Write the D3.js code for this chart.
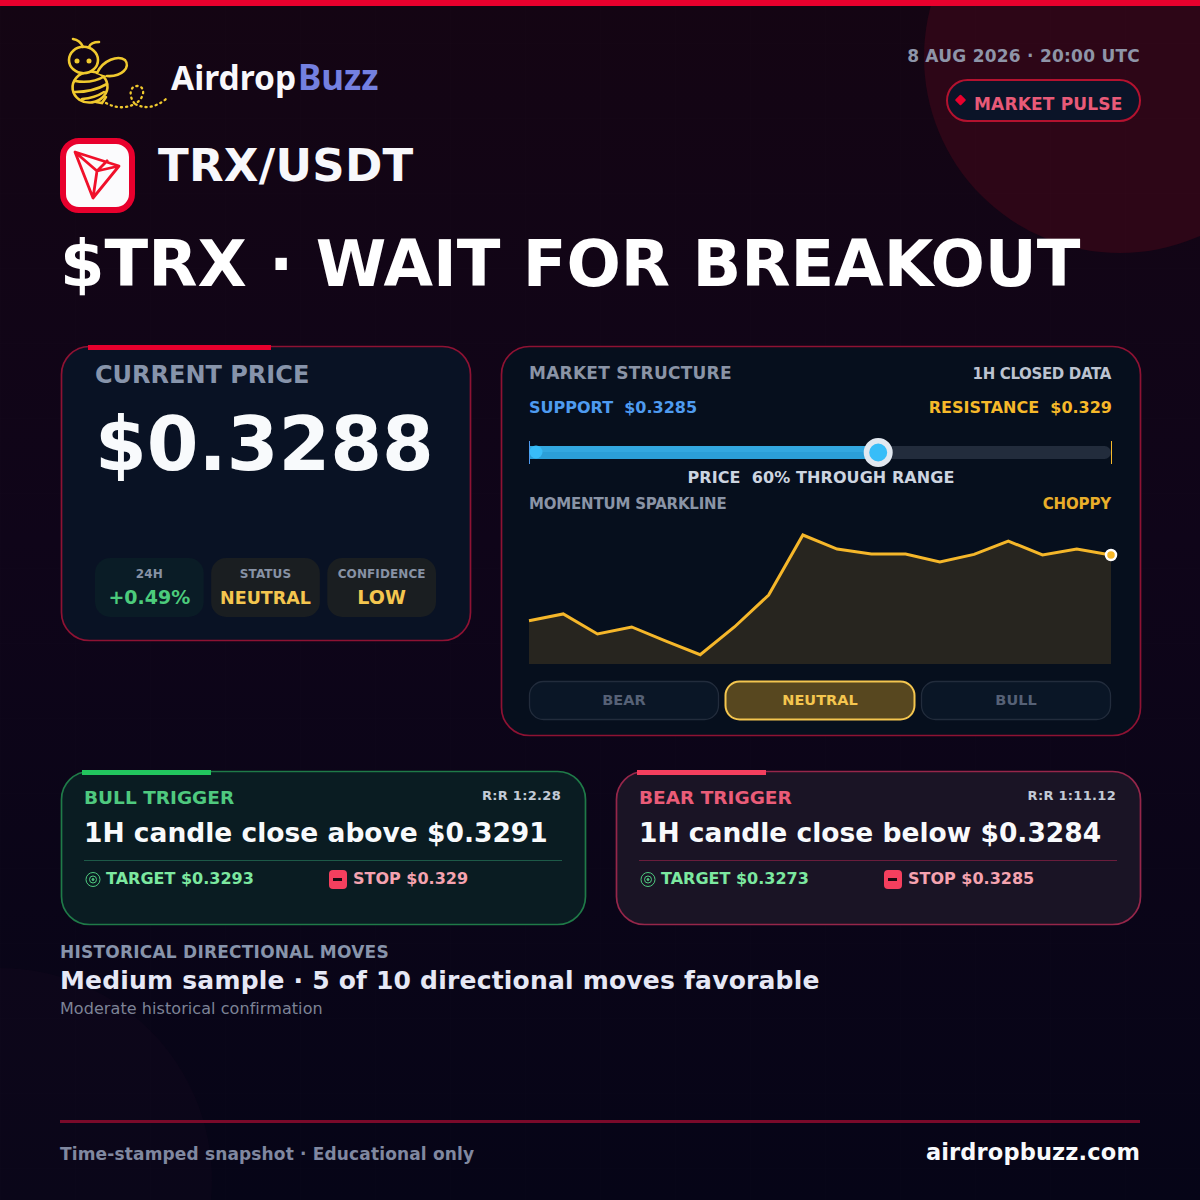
<!DOCTYPE html>
<html><head><meta charset="utf-8">
<script src="https://d3js.org/d3.v7.min.js"></script>
<style>html,body{margin:0;padding:0;background:#080515}svg{display:block}text{font-family:"DejaVu Sans",sans-serif}</style>
</head><body><div id="c"></div>
<script>
// ---- data ----
const momentum = [33.6,38.8,23.3,28.7,17.8,7.2,28.7,53.5,100,89.1,85.3,85.3,79.1,85,95.3,84.5,89.1,84.5];
const supportPrice = 0.3285, resistancePrice = 0.329, currentPrice = 0.3288;
const stats = [["24H","+0.49%","#4ccb7c"],["STATUS","NEUTRAL","#f4c64f"],["CONFIDENCE","LOW","#f4c64f"]];
const biasLabels = ["BEAR","NEUTRAL","BULL"];
const activeBias = "NEUTRAL";
const triggers = [
 {name:"BULL TRIGGER",rr:"R:R 1:2.28",text:"1H candle close above $0.3291",target:"TARGET $0.3293",stop:"STOP $0.329"},
 {name:"BEAR TRIGGER",rr:"R:R 1:11.12",text:"1H candle close below $0.3284",target:"TARGET $0.3273",stop:"STOP $0.3285"}
];

const W=1200,H=1200;
const svg=d3.select("#c").append("svg").attr("width",W).attr("height",H);
const defs=svg.append("defs");
const bg=defs.append("linearGradient").attr("id","bg").attr("x1",0).attr("y1",0).attr("x2",0).attr("y2",1);
bg.append("stop").attr("offset","0").attr("stop-color","#140513");
bg.append("stop").attr("offset","0.45").attr("stop-color","#0f0519");
bg.append("stop").attr("offset","1").attr("stop-color","#060517");
svg.append("rect").attr("width",W).attr("height",H).attr("fill","url(#bg)");
svg.append("circle").attr("cx",1120).attr("cy",57).attr("r",196).attr("fill","#2d0617");
svg.append("circle").attr("cx",0).attr("cy",1180).attr("r",212).attr("fill","#ff60a0").attr("fill-opacity",0.02);
const gridX=d3.range(0,W,75), gridY=d3.range(43,H,75);
svg.selectAll(".gx").data(gridX).join("line").attr("x1",d=>d+.5).attr("x2",d=>d+.5).attr("y1",0).attr("y2",H).attr("stroke","#fff").attr("stroke-opacity",.008);
svg.selectAll(".gy").data(gridY).join("line").attr("y1",d=>d+.5).attr("y2",d=>d+.5).attr("x1",0).attr("x2",W).attr("stroke","#fff").attr("stroke-opacity",.008);
svg.append("rect").attr("width",W).attr("height",6).attr("fill","#e8002d");

function T(x,y,s,size,fill,o={}){
  const t=svg.append("text").attr("x",x).attr("y",y).text(s).attr("font-size",size).attr("fill",fill)
   .attr("font-weight",o.w||"bold").attr("text-anchor",o.a||"start");
  if(o.ls)t.attr("letter-spacing",o.ls);
  if(o.f)t.style("font-family",o.f);
  return t;
}
function card(x,y,w,h,fill,stroke,accent,ax,aw){
  svg.append("rect").attr("x",x+.5).attr("y",y+.5).attr("width",w).attr("height",h).attr("rx",28).attr("fill",fill).attr("stroke",stroke).attr("stroke-width",1.7);
  if(accent)svg.append("rect").attr("x",x+ax).attr("y",y-1).attr("width",aw).attr("height",5).attr("fill",accent);
}

// logo
const bee=svg.append("g").attr("fill","none").attr("stroke","#f0c92e").attr("stroke-width",2.6).attr("stroke-linecap","round");
bee.append("ellipse").attr("cx",90).attr("cy",87).attr("rx",17.5).attr("ry",15.5).attr("transform","rotate(-8 90 87)");
bee.append("path").attr("d","M75 81Q92 84 105 76M75 92Q93 92 107 84M82 99Q95 98 104 92M96 102L102 103L106 97");
bee.append("path").attr("d","M97 73C103 60 118 55 125 60C131 67 122 77 107 76").attr("fill","#120514");
bee.append("ellipse").attr("cx",83.5).attr("cy",60).attr("rx",14.5).attr("ry",13.2).attr("fill","#120514");
bee.append("path").attr("d","M73 39Q80 40 83 47M99 42Q91 42 89 47");
bee.append("circle").attr("cx",77).attr("cy",61).attr("r",1.2).attr("fill","#f0c92e");
bee.append("circle").attr("cx",89).attr("cy",61).attr("r",1.2).attr("fill","#f0c92e");
bee.append("path").attr("d","M106 103Q120 111 135 104C128 96 130 86 137 86C146 86 145 98 135 104Q150 112 166 99")
  .attr("stroke-dasharray","1.2 4").attr("stroke-width",2.3);
const logo=T(171,90,"Airdrop",33.5,"#f8f8fb",{f:"'Noto Sans'",w:"bold"});
logo.append("tspan").text("Buzz").attr("fill","#7480e0").attr("dx",2).attr("font-size",35);

// date + pill
T(1140,62,"8 AUG 2026 · 20:00 UTC",17,"#8e95a8",{a:"end",ls:.24});
svg.append("rect").attr("x",947).attr("y",80).attr("width",193).attr("height",41).attr("rx",20.5).attr("fill","#0b1428").attr("stroke","#b3122f").attr("stroke-width",2);
svg.append("rect").attr("x",956.5).attr("y",96).attr("width",8).attr("height",8).attr("rx",1).attr("fill","#e8002d").attr("transform","rotate(45 960.5 100)");
T(974,110,"MARKET PULSE",17,"#e85a78",{ls:.17});

// icon
svg.append("rect").attr("x",63).attr("y",141).attr("width",69).attr("height",69).attr("rx",16).attr("fill","#fbfbfd").attr("stroke","#e8002d").attr("stroke-width",6);
svg.append("path").attr("d","M75 152L119 166L93 198ZM75 152L97 171L93 198M97 171L119 166M97 171L108 160")
  .attr("fill","none").attr("stroke","#f0102a").attr("stroke-width",2.8).attr("stroke-linejoin","round");

T(158,181,"TRX/USDT",45,"#f8f8fb",{ls:.25});
T(60,286,"$TRX · WAIT FOR BREAKOUT",64,"#ffffff");

// price card
card(61,346,409,294,"#091224","#8e1233","#e8002d",27,183);
T(95,383,"CURRENT PRICE",24,"#8794ab");
T(95,470,"$0.3288",74.4,"#f8fafc");
const statX=d3.scaleBand().domain(stats.map(d=>d[0])).range([95,436]).paddingInner(0.064);
stats.forEach((d,i)=>{
  const x=statX(d[0]),w=statX.bandwidth();
  svg.append("rect").attr("x",x).attr("y",558).attr("width",w).attr("height",59).attr("rx",15).attr("fill",i==0?"#0a1c26":"#1a1e21");
  T(x+w/2,578,d[0],12,"#8792a5",{a:"middle",ls:.1,w:600});
  T(x+w/2,603.5,d[1],d[1].length>6?17.5:19,d[2],{a:"middle"});
});

// market card
card(501,346,639,389,"#060f1d","#8e1233");
T(529,379,"MARKET STRUCTURE",17,"#8a94a6",{ls:.25});
T(1111,379,"1H CLOSED DATA",15,"#bcc3d0",{a:"end",w:600,ls:-.35});
T(529,413,"SUPPORT\u00a0\u00a0$0.3285",16,"#4e9bf0");
T(1112,413,"RESISTANCE\u00a0\u00a0$0.329",16,"#f6b92a",{a:"end"});
const px=d3.scaleLinear().domain([supportPrice,resistancePrice]).range([529,1111]);
svg.append("rect").attr("x",px(supportPrice)).attr("y",446).attr("width",582).attr("height",13).attr("rx",6.5).attr("fill","#222c3c");
svg.append("rect").attr("x",px(supportPrice)).attr("y",446).attr("width",px(currentPrice)-px(supportPrice)).attr("height",13).attr("fill","#2b9fd8");
svg.append("rect").attr("x",px(supportPrice)).attr("y",446).attr("width",px(currentPrice)-px(supportPrice)).attr("height",6).attr("fill","#33a8e0");
svg.append("line").attr("x1",px(supportPrice)+.5).attr("x2",px(supportPrice)+.5).attr("y1",441).attr("y2",464).attr("stroke","#4e9bf0").attr("stroke-width",1);
svg.append("line").attr("x1",px(resistancePrice)+.5).attr("x2",px(resistancePrice)+.5).attr("y1",441).attr("y2",464).attr("stroke","#f6b92a").attr("stroke-width",1);
svg.append("circle").attr("cx",px(supportPrice)+7).attr("cy",452).attr("r",6.5).attr("fill","#38bdf8");
svg.append("circle").attr("cx",px(currentPrice)).attr("cy",452.5).attr("r",11.75).attr("fill","#38bdf8").attr("stroke","#e2e8f0").attr("stroke-width",5.5);
T(821,483,"PRICE\u00a0\u00a060% THROUGH RANGE",16,"#cdd5e0",{a:"middle",ls:.08,w:600});
T(529,509,"MOMENTUM SPARKLINE",15,"#8a94a6",{w:600,ls:-.2});
T(1111,509,"CHOPPY",15,"#e9ae2a",{a:"end",w:600,ls:-.15});

const sx=d3.scaleLinear().domain([0,momentum.length-1]).range([529,1111]);
const sy=d3.scaleLinear().domain([0,100]).range([664,535]);
svg.append("path").datum(momentum).attr("d",d3.area().x((d,i)=>sx(i)).y0(664).y1(d=>sy(d))).attr("fill","#27251f");
svg.append("path").datum(momentum).attr("d",d3.line().x((d,i)=>sx(i)).y(d=>sy(d))).attr("fill","none").attr("stroke","#f5b72a").attr("stroke-width",3);
svg.append("circle").attr("cx",sx(momentum.length-1)).attr("cy",sy(momentum[momentum.length-1])).attr("r",5).attr("fill","#f5b72a").attr("stroke","#fff").attr("stroke-width",2.5);

const bx=d3.scaleBand().domain(biasLabels).range([529,1111]).paddingInner(6/196);
biasLabels.forEach(b=>{
  const on=b===activeBias;
  svg.append("rect").attr("x",bx(b)+.5).attr("y",681.5).attr("width",bx.bandwidth()-1).attr("height",38).attr("rx",14)
    .attr("fill",on?"#57471f":"#0a1626").attr("stroke",on?"#f4c64f":"#222c3c").attr("stroke-width",on?2:1.3);
  T(bx(b)+bx.bandwidth()/2,705,b,14.5,on?"#f4c64f":"#566176",{a:"middle",w:600});
});

// triggers
triggers.forEach((t,i)=>{
  const x=i?616:61,bull=i==0;
  card(x,771,524,153,bull?"#0a1c22":"#1a1425",bull?"#1f7a48":"#96264a",bull?"#22c55e":"#f43f5e",21,129);
  const lx=x+23,rx=x+500;
  T(lx,804,t.name,18.5,bull?"#4fc97f":"#ea5c78");
  T(rx,800,t.rr,13,"#c3cad6",{a:"end",ls:.3});
  T(lx,842,t.text,26.5,"#f8fafc");
  svg.append("line").attr("x1",lx).attr("x2",rx+1).attr("y1",860.5).attr("y2",860.5).attr("stroke",bull?"#1d5a48":"#6a1d3c");
  const tg=svg.append("g").attr("fill","none").attr("stroke","#4fc97f").attr("stroke-width",1);
  tg.append("circle").attr("cx",x+32).attr("cy",879.5).attr("r",7);
  tg.append("circle").attr("cx",x+32).attr("cy",879.5).attr("r",3.5);
  tg.append("circle").attr("cx",x+32).attr("cy",879.5).attr("r",1).attr("fill","#4fc97f");
  T(x+45,884,t.target,16,"#7ce8a0");
  svg.append("rect").attr("x",x+268).attr("y",870).attr("width",18).attr("height",19).attr("rx",4).attr("fill","#f43f5e");
  svg.append("rect").attr("x",x+272).attr("y",878).attr("width",9).attr("height",3).attr("fill","#1a0a12");
  T(x+292,884,t.stop,16,"#f5a3b0");
});

// history
T(60,958,"HISTORICAL DIRECTIONAL MOVES",17,"#8794ab",{ls:.22});
T(60,989,"Medium sample · 5 of 10 directional moves favorable",25,"#e6e8f5",{ls:.2});
T(60,1014,"Moderate historical confirmation",16,"#7d8396",{w:"normal",ls:.07});
svg.append("rect").attr("x",60).attr("y",1120).attr("width",1080).attr("height",3).attr("fill","#7a0a2a");
T(60,1160,"Time-stamped snapshot · Educational only",17,"#8088a0",{ls:.15});
T(1140,1160,"airdropbuzz.com",22.5,"#f8fafc",{a:"end",ls:.15});
</script></body></html>
